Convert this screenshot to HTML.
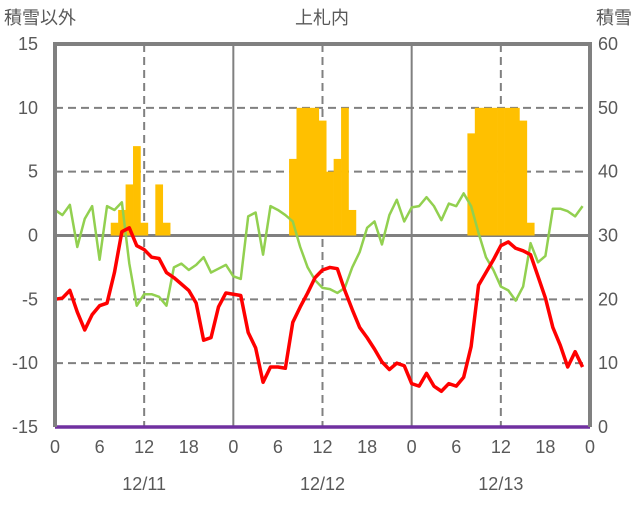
<!DOCTYPE html>
<html><head><meta charset="utf-8"><style>
body{margin:0;background:#fff;}
svg text{font-family:"Liberation Sans","Noto Sans CJK JP",sans-serif;fill:#595959;}
</style></head><body>
<svg id="chart" width="636" height="501" xmlns="http://www.w3.org/2000/svg">
<g id="grid"></g>
<g id="bars"></g>
<g id="lines"></g>
<g id="axes"></g>
<text x="4" y="24" font-size="18">積雪以外</text>
<text x="322" y="24" font-size="18" text-anchor="middle">上札内</text>
<text x="632" y="24" font-size="18" text-anchor="end">積雪</text>
</svg>
<script>
const leftTicks=[15,10,5,0,-5,-10,-15];
const rightTicks=[60,50,40,30,20,10,0];
const hourTicks=["0","6","12","18","0","6","12","18","0","6","12","18","0"];
const dates=["12/11","12/12","12/13"];
const snowHours=[8,9,10,11,12,14,15,32,33,34,35,36,37,38,39,40,56,57,58,59,60,61,62,63,64];
const snowValues=[32,34,38,44,32,38,32,42,50,50,50,48,40,42,50,34,46,50,50,50,50,50,50,48,32];
const tempValues=[-5.0,-4.9,-4.3,-6.0,-7.4,-6.2,-5.5,-5.3,-2.9,0.3,0.6,-0.8,-1.1,-1.7,-1.8,-2.9,-3.3,-3.8,-4.3,-5.3,-8.2,-8.0,-5.6,-4.5,
-4.6,-4.7,-7.6,-8.8,-11.5,-10.3,-10.3,-10.4,-6.8,-5.6,-4.5,-3.3,-2.7,-2.5,-2.6,-4.3,-5.8,-7.2,-8.0,-8.9,-9.9,-10.5,-10.0,-10.2,
-11.6,-11.8,-10.8,-11.8,-12.2,-11.6,-11.8,-11.1,-8.7,-3.9,-2.9,-1.9,-0.8,-0.5,-1.0,-1.2,-1.5,-3.2,-4.9,-7.2,-8.6,-10.3,-9.1,-10.3];
const otherValues=[2.0,1.6,2.4,-0.9,1.3,2.3,-1.9,2.3,2.0,2.6,-2.2,-5.5,-4.6,-4.6,-4.8,-5.5,-2.5,-2.2,-2.7,-2.3,-1.7,-2.9,-2.6,-2.3,
-3.2,-3.4,1.5,1.8,-1.5,2.3,2.0,1.6,1.1,-0.9,-2.5,-3.5,-4.1,-4.2,-4.5,-4.1,-2.5,-1.3,0.6,1.1,-0.7,1.6,2.8,1.1,
2.2,2.3,3.0,2.3,1.2,2.5,2.3,3.3,2.3,0.2,-1.7,-2.7,-4.0,-4.3,-5.1,-4.0,-0.6,-2.1,-1.6,2.1,2.1,1.9,1.5,2.3];
const bottomValues=new Array(73).fill(-15);

const NS="http://www.w3.org/2000/svg";
const X0=55,X1=590,YT=44,YB=427;
const xh=h=>X0+(X1-X0)*h/72;
const yl=v=>YT+(15-v)*(YB-YT)/30;
const yr=v=>YT+(60-v)*(YB-YT)/60;
function mk(t,a,p){const e=document.createElementNS(NS,t);for(const k in a)e.setAttribute(k,a[k]);p.appendChild(e);return e;}
const grid=document.getElementById('grid'),bars=document.getElementById('bars'),lines=document.getElementById('lines'),axes=document.getElementById('axes');
leftTicks.forEach(v=>{
  if(v===15||v===-15||v===0)return;
  const l=mk('line',{x1:X0,x2:X1,y1:yl(v),y2:yl(v),stroke:'#808080','stroke-width':2,'stroke-dasharray':'8,5'},grid);
  
  
});
[12,36,60].forEach(h=>{
  const l=mk('line',{x1:xh(h),x2:xh(h),y1:YT,y2:YB,stroke:'#808080','stroke-width':2,'stroke-dasharray':'8,5'},grid);
  
  
});
[24,48].forEach(h=>{
  const l=mk('line',{x1:xh(h),x2:xh(h),y1:YT,y2:YB,stroke:'#808080','stroke-width':2},grid);
  
  
});
const bw=(X1-X0)/72;
snowHours.forEach((h,i)=>{
  const v=snowValues[i];
  const r=mk('rect',{x:xh(h)-bw/2,y:yr(v),width:bw+0.3,height:yr(30)-yr(v),fill:'#FFC000'},bars);
  
  
});
const zl=mk('line',{x1:X0,x2:X1,y1:yl(0),y2:yl(0),stroke:'#808080','stroke-width':3},grid);


function poly(vals,color,w,name){
  const p=mk('polyline',{points:vals.map((v,i)=>xh(i)+','+yl(v)).join(' '),fill:'none',stroke:color,'stroke-width':w,'stroke-linejoin':'round'},lines);
  
  
}
poly(otherValues,'#92D050',2.5,'green-series-line');
poly(tempValues,'#FF0000',3.5,'temperature-line');
const fr=mk('path',{d:`M${X0},${YB} L${X0},${YT} L${X1},${YT} L${X1},${YB}`,fill:'none',stroke:'#808080','stroke-width':4},axes);


poly(bottomValues,'#7030A0',3.5,'purple-series-line');
leftTicks.forEach(v=>{
  const t=mk('text',{x:38,y:yl(v)+6,'font-size':18,'text-anchor':'end'},axes);t.textContent=v;
  
  
});
rightTicks.forEach(v=>{
  const t=mk('text',{x:598,y:yr(v)+6,'font-size':18},axes);t.textContent=v;
  
  
});
hourTicks.forEach((s,i)=>{
  const t=mk('text',{x:xh(i*6),y:453,'font-size':18,'text-anchor':'middle'},axes);t.textContent=s;
  
  
});
dates.forEach((s,i)=>{
  const t=mk('text',{x:xh(i*24+12),y:490,'font-size':18,'text-anchor':'middle'},axes);t.textContent=s;
  
  
});
</script>
</body></html>
